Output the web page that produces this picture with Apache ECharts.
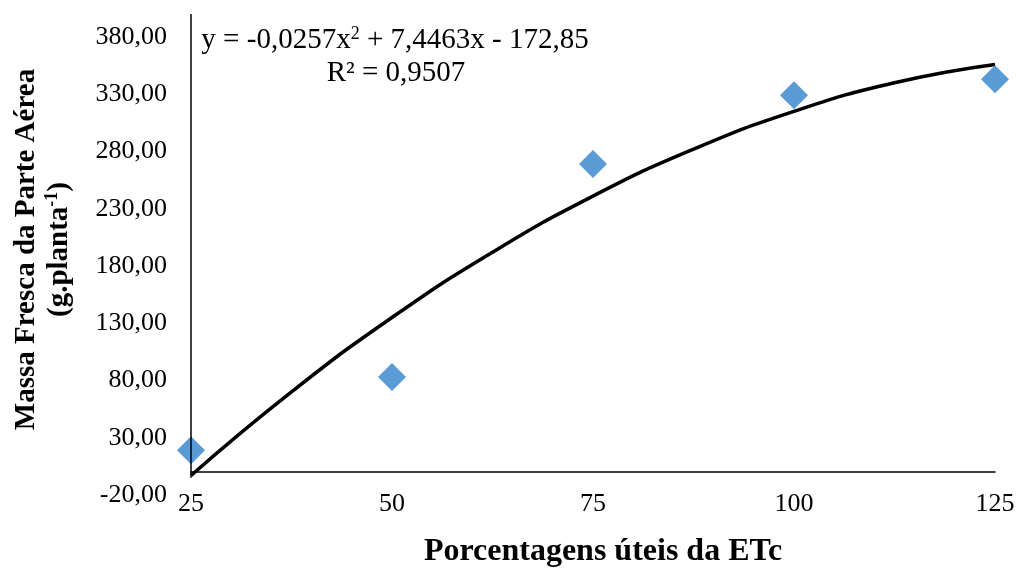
<!DOCTYPE html>
<html>
<head>
<meta charset="utf-8">
<script src="https://cdn.jsdelivr.net/npm/echarts@6/dist/echarts.min.js"></script>
<style>
  html, body { margin: 0; padding: 0; background: #fff; }
  #chart { width: 1019px; height: 570px; }
</style>
</head>
<body>
<div id="chart"></div>
<script>
const FONT = "'Liberation Serif', 'Times New Roman', serif";

// observed values (% of ETc vs fresh mass)
const etcLevels = [25, 50, 75, 100, 125];
const freshMass = [19, 83, 269, 329, 343];

// fitted curve
const trendX = [25, 37.5, 50, 62.5, 75, 87.5, 100, 112.5, 125];
const trendY = [-3, 70, 135, 192, 241, 282, 315, 340, 356];

const chart = echarts.init(document.getElementById('chart'));

const option = {
  animation: false,
  grid: { left: 191, right: 24, top: 14, bottom: 75, containLabel: false, outerBoundsMode: 'none' },
  xAxis: {
    type: 'value',
    min: 25,
    max: 125,
    interval: 25,
    name: 'Porcentagens úteis da ETc',
    nameLocation: 'middle',
    nameGap: 41,
    nameTextStyle: {
      fontFamily: FONT, fontSize: 32, fontWeight: 'bold', color: '#000',
      padding: [0, 0, 0, 20]
    },
    axisLine: { onZero: true, lineStyle: { color: '#000', width: 1.5 } },
    axisTick: { show: false },
    splitLine: { show: false },
    axisLabel: { fontFamily: FONT, fontSize: 26, color: '#000', margin: -4 }
  },
  yAxis: {
    type: 'value',
    min: -20,
    max: 400,
    interval: 50,
    name: '{b|Massa Fresca da Parte Aérea}\n{b|(g.planta}{s|-1}{b|)}',
    nameLocation: 'middle',
    nameRotate: 90,
    nameGap: 115,
    nameTextStyle: {
      align: 'center',
      padding: [0, 0, 0, 10],
      rich: {
        b: { fontFamily: FONT, fontSize: 29, fontWeight: 'bold', color: '#000', lineHeight: 33 },
        s: { fontFamily: FONT, fontSize: 18, fontWeight: 'bold', color: '#000', verticalAlign: 'top', lineHeight: 33 }
      }
    },
    axisLine: { show: false },
    axisTick: { show: false },
    splitLine: { show: false },
    axisLabel: {
      fontFamily: FONT, fontSize: 26, color: '#000', margin: 24,
      showMaxLabel: false,
      formatter: v => v.toFixed(2).replace('.', ',')
    }
  },
  graphic: [
    {
      type: 'text',
      x: 395,
      y: 40,
      style: {
        text: '{t|y = -0,0257x}{u|2}{t| + 7,4463x - 172,85}',
        align: 'center',
        verticalAlign: 'middle',
        rich: {
          t: { fontFamily: FONT, fontSize: 29, color: '#000' },
          u: { fontFamily: FONT, fontSize: 18, color: '#000', verticalAlign: 'top' }
        }
      }
    },
    {
      type: 'text',
      x: 396,
      y: 73,
      style: {
        text: 'R² = 0,9507',
        align: 'center',
        verticalAlign: 'middle',
        fontFamily: FONT,
        fontSize: 29,
        fill: '#000'
      }
    }
  ],
  series: [
    {
      name: 'trend',
      type: 'line',
      data: trendX.map((x, i) => [x, trendY[i]]),
      smooth: true,
      showSymbol: false,
      lineStyle: { color: '#000', width: 3.5 },
      z: 1,
      // vertical axis line: stops just below the horizontal axis
      markLine: {
        silent: true,
        symbol: 'none',
        label: { show: false },
        lineStyle: { color: '#000', width: 1.5, type: 'solid' },
        data: [[{ coord: [25, 400] }, { coord: [25, -5] }]]
      }
    },
    {
      name: 'Massa fresca',
      type: 'scatter',
      data: etcLevels.map((x, i) => [x, freshMass[i]]),
      symbol: 'diamond',
      symbolSize: 28,
      itemStyle: { color: '#5B9BD5', opacity: 1 },
      z: 2
    }
  ]
};

chart.setOption(option);
</script>
</body>
</html>
